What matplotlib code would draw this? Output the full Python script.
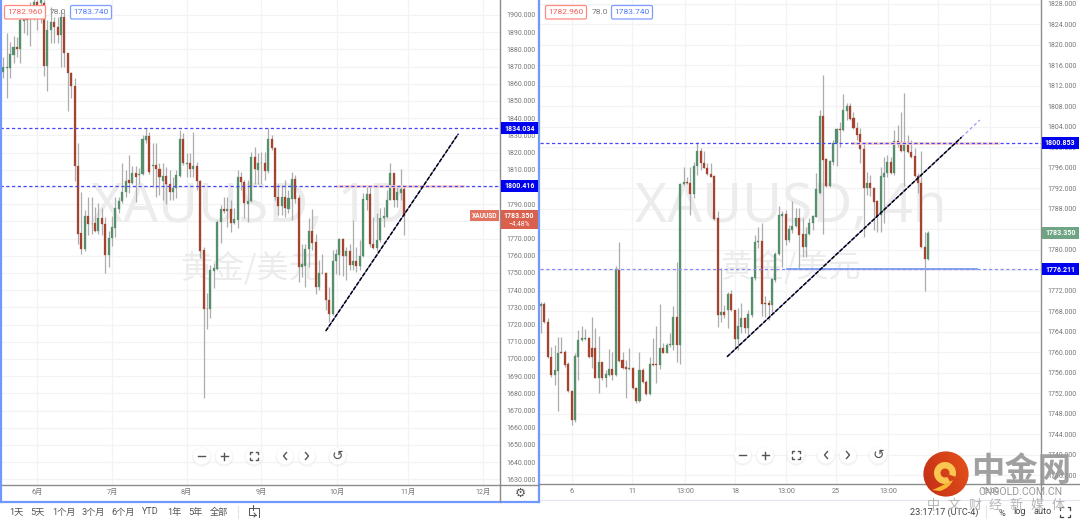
import matplotlib
matplotlib.use('Agg')
import matplotlib.pyplot as plt
import numpy as np
from matplotlib.patches import Circle, Rectangle, FancyBboxPatch, Wedge, PathPatch
from matplotlib.path import Path

plt.rcParams['font.family'] = ['Roboto', 'Noto Sans CJK SC', 'DejaVu Sans']

# daily candles, left panel
left_open = [1867.0, 1869.2, 1869.2, 1876.7, 1881.4, 1880.2, 1896.7, 1900.0, 1900.0, 1903.9,
             1907.8, 1906.8, 1906.8, 1870.5, 1891.3, 1896.1, 1893.2, 1888.4, 1898.6, 1877.7,
             1866.0, 1858.7, 1812.1, 1773.3, 1763.8, 1783.0, 1778.3, 1779.1, 1774.3, 1781.7,
             1778.3, 1760.3, 1770.6, 1776.2, 1787.1, 1791.7, 1797.2, 1803.8, 1802.2, 1808.4,
             1806.9, 1807.3, 1827.2, 1829.6, 1812.1, 1812.9, 1810.2, 1803.4, 1806.5, 1802.0,
             1796.8, 1799.1, 1806.5, 1827.6, 1813.3, 1813.7, 1810.2, 1812.1, 1803.4, 1763.2,
             1729.3, 1729.3, 1751.2, 1752.2, 1779.7, 1787.1, 1786.1, 1787.1, 1779.3, 1780.7,
             1805.5, 1802.6, 1790.0, 1791.7, 1817.6, 1809.8, 1813.7, 1814.1, 1809.2, 1827.6,
             1822.8, 1794.3, 1788.8, 1794.3, 1787.1, 1792.9, 1804.5, 1793.7, 1753.5, 1754.1,
             1763.8, 1774.3, 1767.7, 1741.9, 1750.2, 1750.2, 1734.1, 1726.4, 1756.8, 1760.7,
             1769.6, 1759.7, 1762.7, 1754.9, 1756.8, 1754.1, 1759.9, 1792.7, 1795.8, 1767.1,
             1764.6, 1769.0, 1781.7, 1782.6, 1792.7, 1807.9, 1792.3, 1796.6, 1798.7]
left_high = [1875.4, 1889.3, 1884.5, 1887.8, 1887.4, 1902.9, 1902.9, 1903.9, 1907.8, 1909.7,
             1908.7, 1909.7, 1908.7, 1897.1, 1904.8, 1899.0, 1899.0, 1902.9, 1901.0, 1878.1,
             1867.0, 1863.1, 1825.3, 1797.2, 1786.5, 1794.3, 1794.3, 1788.1, 1790.4, 1787.5,
             1782.6, 1774.5, 1783.2, 1794.3, 1794.3, 1814.0, 1809.8, 1818.5, 1812.1, 1812.1,
             1810.8, 1830.2, 1834.0, 1832.1, 1825.3, 1825.3, 1813.7, 1813.7, 1811.7, 1809.8,
             1805.9, 1809.8, 1833.1, 1831.1, 1819.5, 1819.5, 1831.7, 1814.6, 1804.0, 1765.2,
             1738.4, 1754.5, 1755.5, 1780.7, 1789.4, 1794.3, 1794.3, 1792.3, 1787.5, 1809.8,
             1808.8, 1804.0, 1804.0, 1820.5, 1823.4, 1819.5, 1820.3, 1820.5, 1834.0, 1830.2,
             1823.5, 1802.0, 1801.1, 1804.0, 1798.2, 1808.8, 1806.9, 1795.2, 1767.1, 1767.1,
             1781.7, 1787.1, 1772.9, 1757.4, 1760.9, 1750.4, 1741.9, 1763.2, 1764.2, 1770.6,
             1770.6, 1765.2, 1767.1, 1780.7, 1765.2, 1769.0, 1796.2, 1801.1, 1800.1, 1782.6,
             1784.6, 1787.5, 1788.4, 1798.2, 1813.7, 1808.2, 1799.7, 1810.2, 1801.1]
left_low = [1863.1, 1851.9, 1863.5, 1871.9, 1875.7, 1872.2, 1889.3, 1888.4, 1881.9, 1897.1,
            1891.3, 1895.1, 1864.5, 1855.9, 1883.5, 1883.5, 1883.5, 1869.9, 1869.9, 1844.3,
            1851.5, 1803.4, 1767.1, 1761.3, 1763.0, 1772.0, 1772.9, 1773.9, 1772.9, 1772.0,
            1750.2, 1753.5, 1765.6, 1771.0, 1784.6, 1790.4, 1794.3, 1796.2, 1802.0, 1791.4,
            1802.0, 1806.9, 1825.3, 1807.8, 1800.1, 1794.3, 1795.2, 1792.3, 1790.0, 1792.3,
            1792.3, 1793.3, 1806.0, 1813.0, 1805.9, 1805.9, 1805.9, 1798.2, 1758.4, 1677.3,
            1717.6, 1724.0, 1741.5, 1751.6, 1767.5, 1784.6, 1776.8, 1773.9, 1778.7, 1776.4,
            1798.2, 1781.7, 1779.7, 1791.3, 1802.0, 1802.0, 1802.0, 1803.9, 1808.4, 1821.4,
            1792.3, 1783.6, 1783.6, 1782.6, 1784.6, 1780.7, 1790.4, 1744.8, 1747.7, 1741.9,
            1753.5, 1763.2, 1737.6, 1740.3, 1749.6, 1728.3, 1721.5, 1725.5, 1749.6, 1748.7,
            1748.3, 1745.8, 1751.6, 1751.6, 1750.6, 1751.6, 1759.3, 1786.5, 1765.2, 1764.2,
            1762.8, 1768.1, 1776.8, 1781.7, 1792.3, 1788.4, 1788.4, 1792.3, 1772.0]
left_close = [1869.5, 1869.5, 1877.3, 1881.4, 1880.2, 1897.1, 1900.0, 1897.1, 1904.8, 1907.8,
              1902.9, 1908.7, 1870.5, 1891.3, 1896.1, 1892.8, 1888.4, 1898.6, 1877.7, 1866.0,
              1858.7, 1812.1, 1772.9, 1763.8, 1783.0, 1778.3, 1778.7, 1774.3, 1781.7, 1778.3,
              1760.3, 1770.6, 1776.8, 1787.5, 1791.7, 1797.2, 1803.4, 1802.4, 1808.4, 1805.9,
              1807.8, 1827.6, 1829.6, 1808.8, 1812.9, 1810.2, 1805.9, 1806.5, 1801.6, 1796.8,
              1799.1, 1806.9, 1827.6, 1813.7, 1813.7, 1810.2, 1812.1, 1803.4, 1762.8, 1729.3,
              1728.9, 1751.6, 1752.6, 1779.7, 1787.1, 1786.1, 1787.1, 1779.3, 1781.1, 1805.5,
              1802.6, 1790.4, 1791.7, 1817.6, 1810.2, 1813.9, 1814.1, 1809.4, 1827.6, 1822.4,
              1794.3, 1789.0, 1794.3, 1787.5, 1793.3, 1804.5, 1792.9, 1753.5, 1755.1, 1764.2,
              1774.3, 1767.7, 1741.9, 1750.2, 1749.9, 1734.1, 1726.4, 1756.8, 1760.9, 1769.6,
              1759.9, 1762.7, 1754.9, 1756.8, 1754.1, 1759.9, 1792.9, 1795.8, 1767.1, 1764.6,
              1769.4, 1781.7, 1783.0, 1792.7, 1807.9, 1792.7, 1796.8, 1798.7, 1783.35]

# 4h candles, right panel
right_open = [1769.05, 1769.44, 1765.86, 1759.03, 1755.58, 1756.43, 1760.01, 1760.01, 1757.67, 1752.53,
              1746.80, 1759.16, 1762.41, 1762.61, 1762.87, 1760.79, 1760.79, 1755.06, 1758.06, 1755.06,
              1755.58, 1756.69, 1755.58, 1776.07, 1758.51, 1757.08, 1756.82, 1756.89, 1753.11, 1750.58,
              1756.56, 1754.28, 1751.81, 1757.67, 1757.67, 1757.54, 1760.79, 1759.94, 1761.44, 1761.44,
              1766.84, 1761.44, 1792.79, 1793.31, 1792.98, 1790.90, 1796.36, 1799.36, 1797.01, 1796.04,
              1794.74, 1794.48, 1786.15, 1767.29, 1767.81, 1768.27, 1771.39, 1768.27, 1762.61, 1765.02,
              1766.64, 1764.82, 1767.29, 1774.51, 1781.47, 1781.80, 1769.70, 1769.70, 1769.24, 1774.12,
              1779.13, 1786.67, 1786.93, 1781.93, 1783.88, 1784.66, 1786.15, 1783.03, 1780.50, 1783.03,
              1785.18, 1786.48, 1791.03, 1806.12, 1797.67, 1792.47, 1797.21, 1800.79, 1803.52, 1803.39,
              1807.16, 1808.07, 1805.67, 1803.72, 1802.61, 1799.68, 1792.14, 1793.11, 1792.14, 1789.54,
              1786.81, 1794.29, 1794.94, 1797.21, 1794.94, 1801.24, 1801.11, 1799.36, 1801.11, 1799.03,
              1798.32, 1794.48, 1792.99, 1780.63, 1778.16]
right_high = [1769.89, 1769.89, 1766.64, 1760.98, 1761.44, 1763.06, 1763.06, 1760.46, 1758.19, 1752.66,
              1759.81, 1764.38, 1765.15, 1764.49, 1763.06, 1766.97, 1764.69, 1763.19, 1758.19, 1756.56,
              1760.59, 1760.14, 1776.92, 1781.47, 1760.14, 1758.51, 1760.92, 1757.21, 1753.31, 1760.14,
              1756.89, 1754.61, 1759.03, 1762.74, 1765.15, 1769.44, 1761.76, 1761.89, 1763.71, 1769.05,
              1777.57, 1793.00, 1796.23, 1794.28, 1796.23, 1797.21, 1800.98, 1799.81, 1799.36, 1796.88,
              1796.88, 1794.61, 1787.65, 1776.40, 1769.24, 1771.84, 1772.17, 1768.30, 1768.59, 1769.57,
              1766.97, 1768.27, 1774.77, 1782.90, 1784.53, 1785.18, 1771.06, 1770.21, 1774.45, 1779.65,
              1788.56, 1787.65, 1787.78, 1784.85, 1789.54, 1788.10, 1788.10, 1786.16, 1784.53, 1786.16,
              1786.81, 1794.94, 1807.29, 1814.12, 1797.86, 1797.54, 1801.44, 1803.72, 1805.02, 1810.35,
              1808.60, 1808.60, 1806.97, 1805.02, 1803.72, 1801.11, 1795.26, 1794.61, 1792.34, 1789.73,
              1796.24, 1798.19, 1798.51, 1798.19, 1803.39, 1804.37, 1806.97, 1810.68, 1802.42, 1801.44,
              1799.81, 1794.94, 1799.36, 1783.55, 1783.74]
right_low = [1763.71, 1765.67, 1758.84, 1755.26, 1753.63, 1748.56, 1759.81, 1757.21, 1752.33, 1745.83,
             1746.50, 1754.61, 1762.30, 1762.41, 1758.84, 1756.89, 1754.93, 1752.01, 1754.61, 1753.31,
             1755.40, 1754.61, 1755.40, 1758.19, 1756.70, 1751.03, 1756.56, 1752.80, 1750.19, 1750.38,
             1753.96, 1751.68, 1751.68, 1757.40, 1753.96, 1756.76, 1759.81, 1759.80, 1761.11, 1760.46,
             1758.19, 1757.73, 1792.70, 1792.90, 1786.80, 1790.06, 1794.61, 1795.58, 1795.90, 1794.60,
             1794.15, 1785.83, 1764.88, 1765.99, 1766.64, 1764.69, 1768.14, 1760.79, 1760.46, 1763.71,
             1763.71, 1763.39, 1766.97, 1774.12, 1780.30, 1767.10, 1766.97, 1766.32, 1767.62, 1773.80,
             1779.00, 1776.72, 1780.95, 1781.60, 1783.23, 1784.53, 1776.40, 1778.68, 1778.68, 1782.90,
             1783.88, 1786.35, 1790.90, 1783.10, 1792.30, 1792.30, 1796.56, 1796.37, 1800.01, 1803.20,
             1805.34, 1805.40, 1803.59, 1801.44, 1796.89, 1782.58, 1790.71, 1790.51, 1783.88, 1783.55,
             1783.55, 1785.18, 1794.29, 1794.80, 1794.61, 1800.14, 1799.16, 1792.47, 1798.84, 1797.86,
             1794.29, 1791.03, 1780.30, 1772.04, 1778.03]
right_close = [1769.44, 1765.86, 1759.03, 1755.58, 1756.56, 1759.94, 1759.88, 1757.54, 1752.53, 1746.80,
               1759.29, 1762.41, 1762.74, 1762.74, 1759.03, 1759.03, 1755.06, 1758.06, 1755.06, 1755.72,
               1756.69, 1755.58, 1776.20, 1758.38, 1756.89, 1756.76, 1756.95, 1752.98, 1750.58, 1756.56,
               1754.15, 1751.81, 1757.67, 1757.54, 1757.54, 1760.79, 1759.94, 1761.44, 1761.63, 1766.97,
               1761.44, 1792.85, 1793.31, 1792.98, 1790.90, 1796.36, 1799.36, 1797.01, 1796.04, 1794.74,
               1794.28, 1786.02, 1767.29, 1767.81, 1767.29, 1771.39, 1768.27, 1762.61, 1765.15, 1766.77,
               1764.82, 1767.42, 1774.64, 1781.60, 1781.80, 1769.44, 1769.44, 1769.24, 1774.32, 1779.13,
               1786.80, 1786.93, 1781.93, 1784.01, 1784.72, 1786.15, 1782.90, 1780.50, 1783.10, 1785.31,
               1786.61, 1791.82, 1806.12, 1797.54, 1792.47, 1797.34, 1800.92, 1803.52, 1803.39, 1807.29,
               1808.07, 1805.54, 1803.72, 1802.42, 1799.68, 1792.14, 1793.11, 1792.01, 1789.41, 1786.68,
               1794.42, 1794.94, 1797.21, 1794.94, 1801.24, 1801.11, 1799.36, 1801.11, 1799.03, 1798.19,
               1794.48, 1792.99, 1780.50, 1778.16, 1783.35]

left_xtick_pos = [9.9, 32.0, 54.0, 75.9, 98.3, 119.2, 141.3]
left_xtick_labels = ['6月', '7月', '8月', '9月', '10月', '11月', '12月']
right_xtick_pos = [9.1, 26.8, 42.4, 57.1, 72.1, 86.8, 102.2, 116.9, 132.2]
right_xtick_labels = ['6', '11', '13:00', '18', '13:00', '25', '13:00', '', '13:00']

left_yticks = np.arange(1630, 1901, 10)
right_yticks = np.arange(1736, 1829, 4)

left_levels = [1834.034, 1800.416]
right_levels = [1800.853, 1776.211]
last_price = 1783.35

# trend lines as (candle index, price)
left_trend_x = [95.0, 134.0]
left_trend_y = [1716.3, 1830.8]
right_trend_x = [54.8, 123.8]
right_trend_y = [1759.16, 1801.97]
right_ext_x = [123.8, 129.2]
right_ext_y = [1801.97, 1805.34]

UP = '#578f6d'
DOWN = '#a6432f'
WICK = '#adadad'
GRID = '#f3f3f5'
AXIS = '#8c8c8c'
LEVEL = '#4646f5'
WM = '#ececec'
PINK = '#fbd3ca'

fig = plt.figure(figsize=(10.8, 5.24), dpi=100, facecolor='white')


def make_axes(x0, x1, y1):
    ax = fig.add_axes([x0 / 1080, (524 - y1) / 524, (x1 - x0) / 1080, y1 / 524])
    ax.yaxis.tick_right()
    for s in ['top', 'left']:
        ax.spines[s].set_visible(False)
    for s in ['right', 'bottom']:
        ax.spines[s].set_color(AXIS)
        ax.spines[s].set_linewidth(1.0)
    ax.tick_params(axis='both', length=0, labelcolor='#777777')
    ax.tick_params(axis='y', pad=4.5, labelsize=5.0)
    ax.tick_params(axis='x', pad=3, labelsize=5.2)
    ax.grid(True, color=GRID, lw=0.9)
    ax.set_axisbelow(True)
    return ax


def candles(ax, o, h, l, c):
    o, h, l, c = map(np.array, (o, h, l, c))
    x = np.arange(len(o))
    up = c >= o
    ax.vlines(x, l, h, color=WICK, lw=0.9, zorder=3)
    colors = np.where(up, UP, DOWN)
    ax.bar(x, np.abs(c - o), bottom=np.minimum(o, c), width=0.6, color=colors,
           edgecolor=colors, linewidth=0.2, zorder=4)


def watermark(ax, title, sub):
    ax.text(0.5, 0.572, title, transform=ax.transAxes, fontsize=39.5, color=WM, ha='center',
            va='center', zorder=1, family=['Noto Sans', 'DejaVu Sans'])
    ax.text(0.5, 0.4485, sub, transform=ax.transAxes, fontsize=23, color=WM, ha='center',
            va='center', zorder=1, family=['Noto Sans CJK SC', 'DejaVu Sans'])


# left panel
ax1 = make_axes(0, 500, 485)
ax1.set_xlim(-0.98, 146.3)
ax1.set_ylim(1626.7, 1908.7)
ax1.set_yticks(left_yticks, ['%.3f' % v for v in left_yticks])
ax1.set_xticks(left_xtick_pos, left_xtick_labels)
watermark(ax1, 'XAUUSD, 1D', '黄金/美元')
candles(ax1, left_open, left_high, left_low, left_close)
ax1.plot([98.3, 135.4], [left_levels[1]] * 2, color=PINK, lw=2.0, zorder=5)
for lv in left_levels:
    ax1.axhline(lv, color=LEVEL, lw=0.9, dashes=(2.6, 2), zorder=6)
ax1.plot(left_trend_x, left_trend_y, color='#5050d0', lw=0.7, zorder=7)
ax1.plot(left_trend_x, left_trend_y, color='black', lw=1.1, dashes=(2.6, 1.0), zorder=8)

# right panel
ax2 = make_axes(540, 1041, 484)
ax2.set_xlim(-0.29, 147.2)
ax2.set_ylim(1734.32, 1828.76)
ax2.set_yticks(right_yticks, ['%.3f' % v for v in right_yticks])
ax2.set_xticks(right_xtick_pos, right_xtick_labels)
watermark(ax2, 'XAUUSD, 4h', '黄金/美元')
candles(ax2, right_open, right_high, right_low, right_close)
ax2.plot([91.6, 134.5], [right_levels[0]] * 2, color=PINK, lw=2.0, zorder=5)
ax2.plot([72.4, 128.3], [right_levels[1] + 0.1] * 2, color='#7fa8ec', lw=1.4, zorder=5)
ax2.axhline(right_levels[0], color=LEVEL, lw=0.9, dashes=(2.6, 2), zorder=6)
ax2.axhline(right_levels[1], color='#8a8af8', lw=0.9, dashes=(2.6, 2), zorder=6)
ax2.plot(right_trend_x, right_trend_y, color='#5050d0', lw=0.7, zorder=7)
ax2.plot(right_trend_x, right_trend_y, color='black', lw=1.1, dashes=(2.6, 1.0), zorder=8)
ax2.plot(right_ext_x, right_ext_y, color='#9a9af8', lw=0.9, dashes=(2.6, 2), zorder=7)

# screen chrome in pixel coordinates on a full figure overlay
ov = fig.add_axes([0, 0, 1, 1], zorder=30)
ov.set_xlim(0, 1080)
ov.set_ylim(524, 0)
ov.axis('off')
ov.patch.set_alpha(0)


def price_tag(ax, value, x_left, color='#0000f0'):
    # box sits on the price axis at the height of the value
    py = 524 - ax.transData.transform((0, value))[1]
    ov.add_patch(Rectangle((x_left, py - 6), 37.5, 12, fc=color, ec='none', zorder=4))
    ov.text(x_left + 18.7, py + 0.2, '%.3f' % value, fontsize=5.0, color='white', weight='bold',
            ha='center', va='center', zorder=5)


for lv in left_levels:
    price_tag(ax1, lv, 500.5)
for lv in right_levels:
    price_tag(ax2, lv, 1041.5)
price_tag(ax2, last_price, 1041.5, color='#6fa585')

BLUE = '#7099ff'
ov.plot([0.8, 0.8], [0, 502], color=BLUE, lw=1.6)
ov.plot([539, 539], [0, 502], color=BLUE, lw=1.6)
ov.plot([0, 539], [502, 502], color=BLUE, lw=1.6)
ov.plot([500, 539], [485, 485], color=AXIS, lw=1.0)
ov.plot([500, 500], [485, 502], color=AXIS, lw=1.0)
ov.plot([1041, 1080], [484, 484], color=AXIS, lw=1.0)
ov.plot([1041, 1041], [484, 500], color=AXIS, lw=1.0)
ov.plot([540, 1080], [500, 500], color='#e4e4ee', lw=0.8)
ov.text(520, 493, '⚙', fontsize=9, ha='center', va='center', color='#555555',
        family=['DejaVu Sans'])

# last price tag on the left panel
ov.add_patch(Rectangle((470, 210), 29, 11, fc='#e2735f', ec='none'))
ov.text(484.5, 215.6, 'XAUUSD', fontsize=4.8, color='white', ha='center', va='center', weight='bold')
ov.add_patch(Rectangle((500.5, 210), 37, 18.5, fc='#d9604c', ec='none'))
ov.text(519, 215.6, '1783.350', fontsize=5.0, color='white', ha='center', va='center', weight='bold')
ov.text(519, 224, '−4.48%', fontsize=4.8, color='white', ha='center', va='center')


def hud(x1, xv, x2):
    ov.add_patch(FancyBboxPatch((x1 + 0.5, 5.5), 41, 13.5, boxstyle='round,pad=0,rounding_size=1.5',
                                fc='white', ec='#ff8a80', lw=0.9))
    ov.text(x1 + 21, 12.4, '1782.960', fontsize=6.0, color='#f8605a', ha='center', va='center')
    ov.text(xv, 12, '78.0', fontsize=6.0, color='#777777', ha='center', va='center')
    ov.add_patch(FancyBboxPatch((x2 + 0.5, 5.5), 41, 13.5, boxstyle='round,pad=0,rounding_size=1.5',
                                fc='white', ec='#7f9dff', lw=0.9))
    ov.text(x2 + 21, 12.4, '1783.740', fontsize=6.0, color='#4f78ff', ha='center', va='center')


hud(4, 58, 70)
hud(545, 599.5, 611)


def buttons(xs, y):
    for x in xs:
        ov.add_patch(Circle((x, y + 1), 9.6, fc='#e8e8e8', ec='none', alpha=0.5, zorder=5))
        ov.add_patch(Circle((x, y), 8.4, fc='white', ec='none', zorder=6))
    col = '#555555'
    ov.plot([xs[0] - 3.5, xs[0] + 3.5], [y, y], color=col, lw=1, zorder=7)
    ov.plot([xs[1] - 3.5, xs[1] + 3.5], [y, y], color=col, lw=1, zorder=7)
    ov.plot([xs[1], xs[1]], [y - 3.5, y + 3.5], color=col, lw=1, zorder=7)
    # full screen corners
    for sx in (-1, 1):
        for sy in (-1, 1):
            ov.plot([xs[2] + sx * 4, xs[2] + sx * 4, xs[2] + sx * 2],
                    [y + sy * 2, y + sy * 4, y + sy * 4], color=col, lw=1, zorder=7)
    ov.plot([xs[3] + 1.5, xs[3] - 1.5, xs[3] + 1.5], [y - 3.5, y, y + 3.5], color=col, lw=1, zorder=7)
    ov.plot([xs[4] - 1.5, xs[4] + 1.5, xs[4] - 1.5], [y - 3.5, y, y + 3.5], color=col, lw=1, zorder=7)
    ov.text(xs[5], y, '↺', fontsize=10, color=col, ha='center', va='center', zorder=7,
            family=['DejaVu Sans'])


buttons([201.7, 224, 254, 285, 307, 337.6], 456)
buttons([742.7, 765, 796, 826, 848, 878], 455)

# bottom toolbar
range_labels = ['1天', '5天', '1个月', '3个月', '6个月', 'YTD', '1年', '5年', '全部']
range_x = [16, 37.5, 63.5, 93.5, 123.5, 150.5, 174, 195.5, 218.5]
for lab, x in zip(range_labels, range_x):
    ov.text(x, 512, lab, fontsize=6.6, color='#555555', ha='center', va='center')
ov.plot([238, 238], [506, 518], color='#e4e4e4', lw=0.8)
ov.plot([249, 259, 259], [508, 508, 517], color='#555555', lw=0.7)
ov.plot([249, 249, 256], [508, 515, 515], color='#555555', lw=0.7)
ov.plot([253, 253], [505, 510], color='#555555', lw=0.7)
ov.plot([254, 256, 254], [513, 515, 517], color='#555555', lw=0.7)

ov.text(944, 512, '23:17:17 (UTC-4)', fontsize=6.6, color='#444444', ha='center', va='center')
ov.plot([986, 986], [506, 518], color='#e4e4e4', lw=0.8)
ov.text(1001.5, 513, '%', fontsize=6.6, color='#444444', ha='center', va='center')
ov.text(1020, 512, 'log', fontsize=6.6, color='#444444', ha='center', va='center')
ov.text(1043, 512, 'auto', fontsize=6.6, color='#444444', ha='center', va='center')
for sx in (-1, 1):
    for sy in (-1, 1):
        ov.plot([1065 + sx * 5, 1065 + sx * 5, 1065 + sx * 2.5],
                [512 + sy * 2.5, 512 + sy * 5, 512 + sy * 5], color='#444444', lw=0.9)

# site logo and mark
yy, xx = np.mgrid[-1:1:90j, -1:1:90j]
shade = np.clip((xx + yy * -0.4 + 1.4) / 2.8, 0, 1)
img = np.zeros((90, 90, 3))
img[..., 0] = 0.76 + 0.14 * shade
img[..., 1] = 0.17 + 0.16 * shade
img[..., 2] = 0.09 + 0.01 * shade
im = ov.imshow(img, extent=(923.4, 968.6, 496.6, 451.4), aspect='auto', zorder=10)
im.set_clip_path(Circle((946, 474), 22.6, transform=ov.transData))
ov.set_xlim(0, 1080)
ov.set_ylim(524, 0)
ov.add_patch(Wedge((945, 473), 11, 60, 380, width=6.5, fc='#f9c74f', ec='none', zorder=11))
tail = Path([(953, 480), (950, 488), (940, 491), (932, 490), (940, 487), (945, 484), (953, 480)],
            [Path.MOVETO, Path.CURVE3, Path.CURVE3, Path.LINETO, Path.CURVE3, Path.CURVE3, Path.CLOSEPOLY])
ov.add_patch(PathPatch(tail, fc='#f7b733', ec='none', zorder=11))
ov.text(1021, 471, '中金网', fontsize=24, color='#969696', ha='center', va='center', weight='bold',
        alpha=0.9, zorder=11, family=['Noto Sans CJK SC', 'DejaVu Sans'])
ov.text(1020, 492, 'CNGOLD.COM.CN', fontsize=7.6, color='#9a9a9a', ha='center', va='center', zorder=11)
for i, ch in enumerate('中文财经新媒体'):
    ov.text(933 + i * 20.8, 505.5, ch, fontsize=9.4, color='#b5b5b5', ha='center', va='center', zorder=11,
            family=['Noto Sans CJK SC', 'DejaVu Sans'])

fig.savefig('out.png', dpi=100)
